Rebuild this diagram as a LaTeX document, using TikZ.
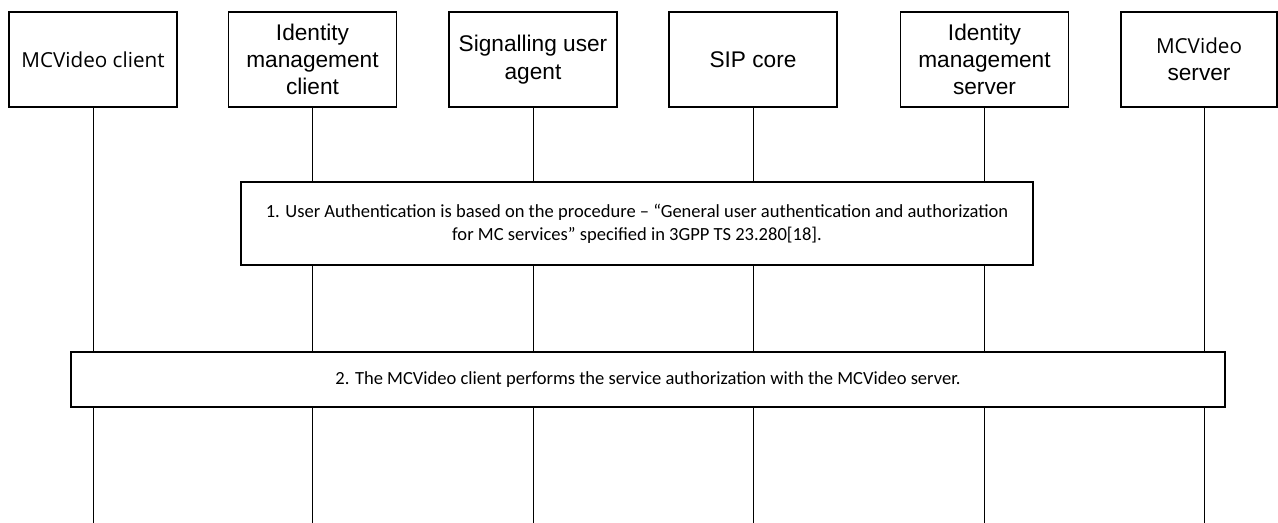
\documentclass[tikz,border=0pt]{standalone}
\usepackage{fontspec}
\setmainfont{Liberation Sans}
\newfontfamily\msgfont{Carlito}
\newfontfamily\mcfont{Open Sans}

\begin{document}
\begin{tikzpicture}[x=0.75pt, y=-0.75pt, line width=0.8pt,
  entity/.style={draw, fill=white, minimum width=126pt, minimum height=71.25pt,
    inner sep=1pt, align=center, font=\fontsize{17}{20.5}\selectfont},
  lifeline/.style={line width=0.7pt},
  msgbox/.style={draw, fill=white, align=center, inner sep=0pt,
    font=\msgfont\fontsize{13.9}{17}\selectfont}]
  \useasboundingbox (0,0) rectangle (1278,523);
  % entities
  \node[entity] (mcc) at (93,59.5) {\mcfont\fontsize{15.5}{20}\selectfont MCVideo client};
  \node[entity] (idc) at (312.5,59.5) {Identity\\management\\client};
  \node[entity] (sua) at (533,59.5) {Signalling user\\agent};
  \node[entity] (sip) at (753,59.5) {SIP core};
  \node[entity] (ids) at (984.5,59.5) {Identity\\management\\server};
  \node[entity, minimum width=117pt] (mcs) at (1199,59.5)
    {{\mcfont\fontsize{15.5}{20}\selectfont MCVideo}\\server};
  \coordinate (mcs bottom) at (1204,107);
  % lifelines
  \foreach \n in {mcc,idc,sua,sip,ids}
    \draw[lifeline] (\n.south) -- (\n.south |- 0,523);
  \draw[lifeline] (mcs bottom) -- (mcs bottom |- 0,523);
  % steps
  \node[msgbox, minimum width=594pt, minimum height=62.25pt] (auth) at (637,223.5)
    {1. User Authentication is based on the procedure – “General user authentication and authorization\\
     for MC services” specified in 3GPP TS 23.280[18].};
  \node[msgbox, minimum width=865.5pt, minimum height=41.25pt] (svc) at (648,379.5)
    {2. The MCVideo client performs the service authorization with the MCVideo server.};
\end{tikzpicture}
\end{document}
